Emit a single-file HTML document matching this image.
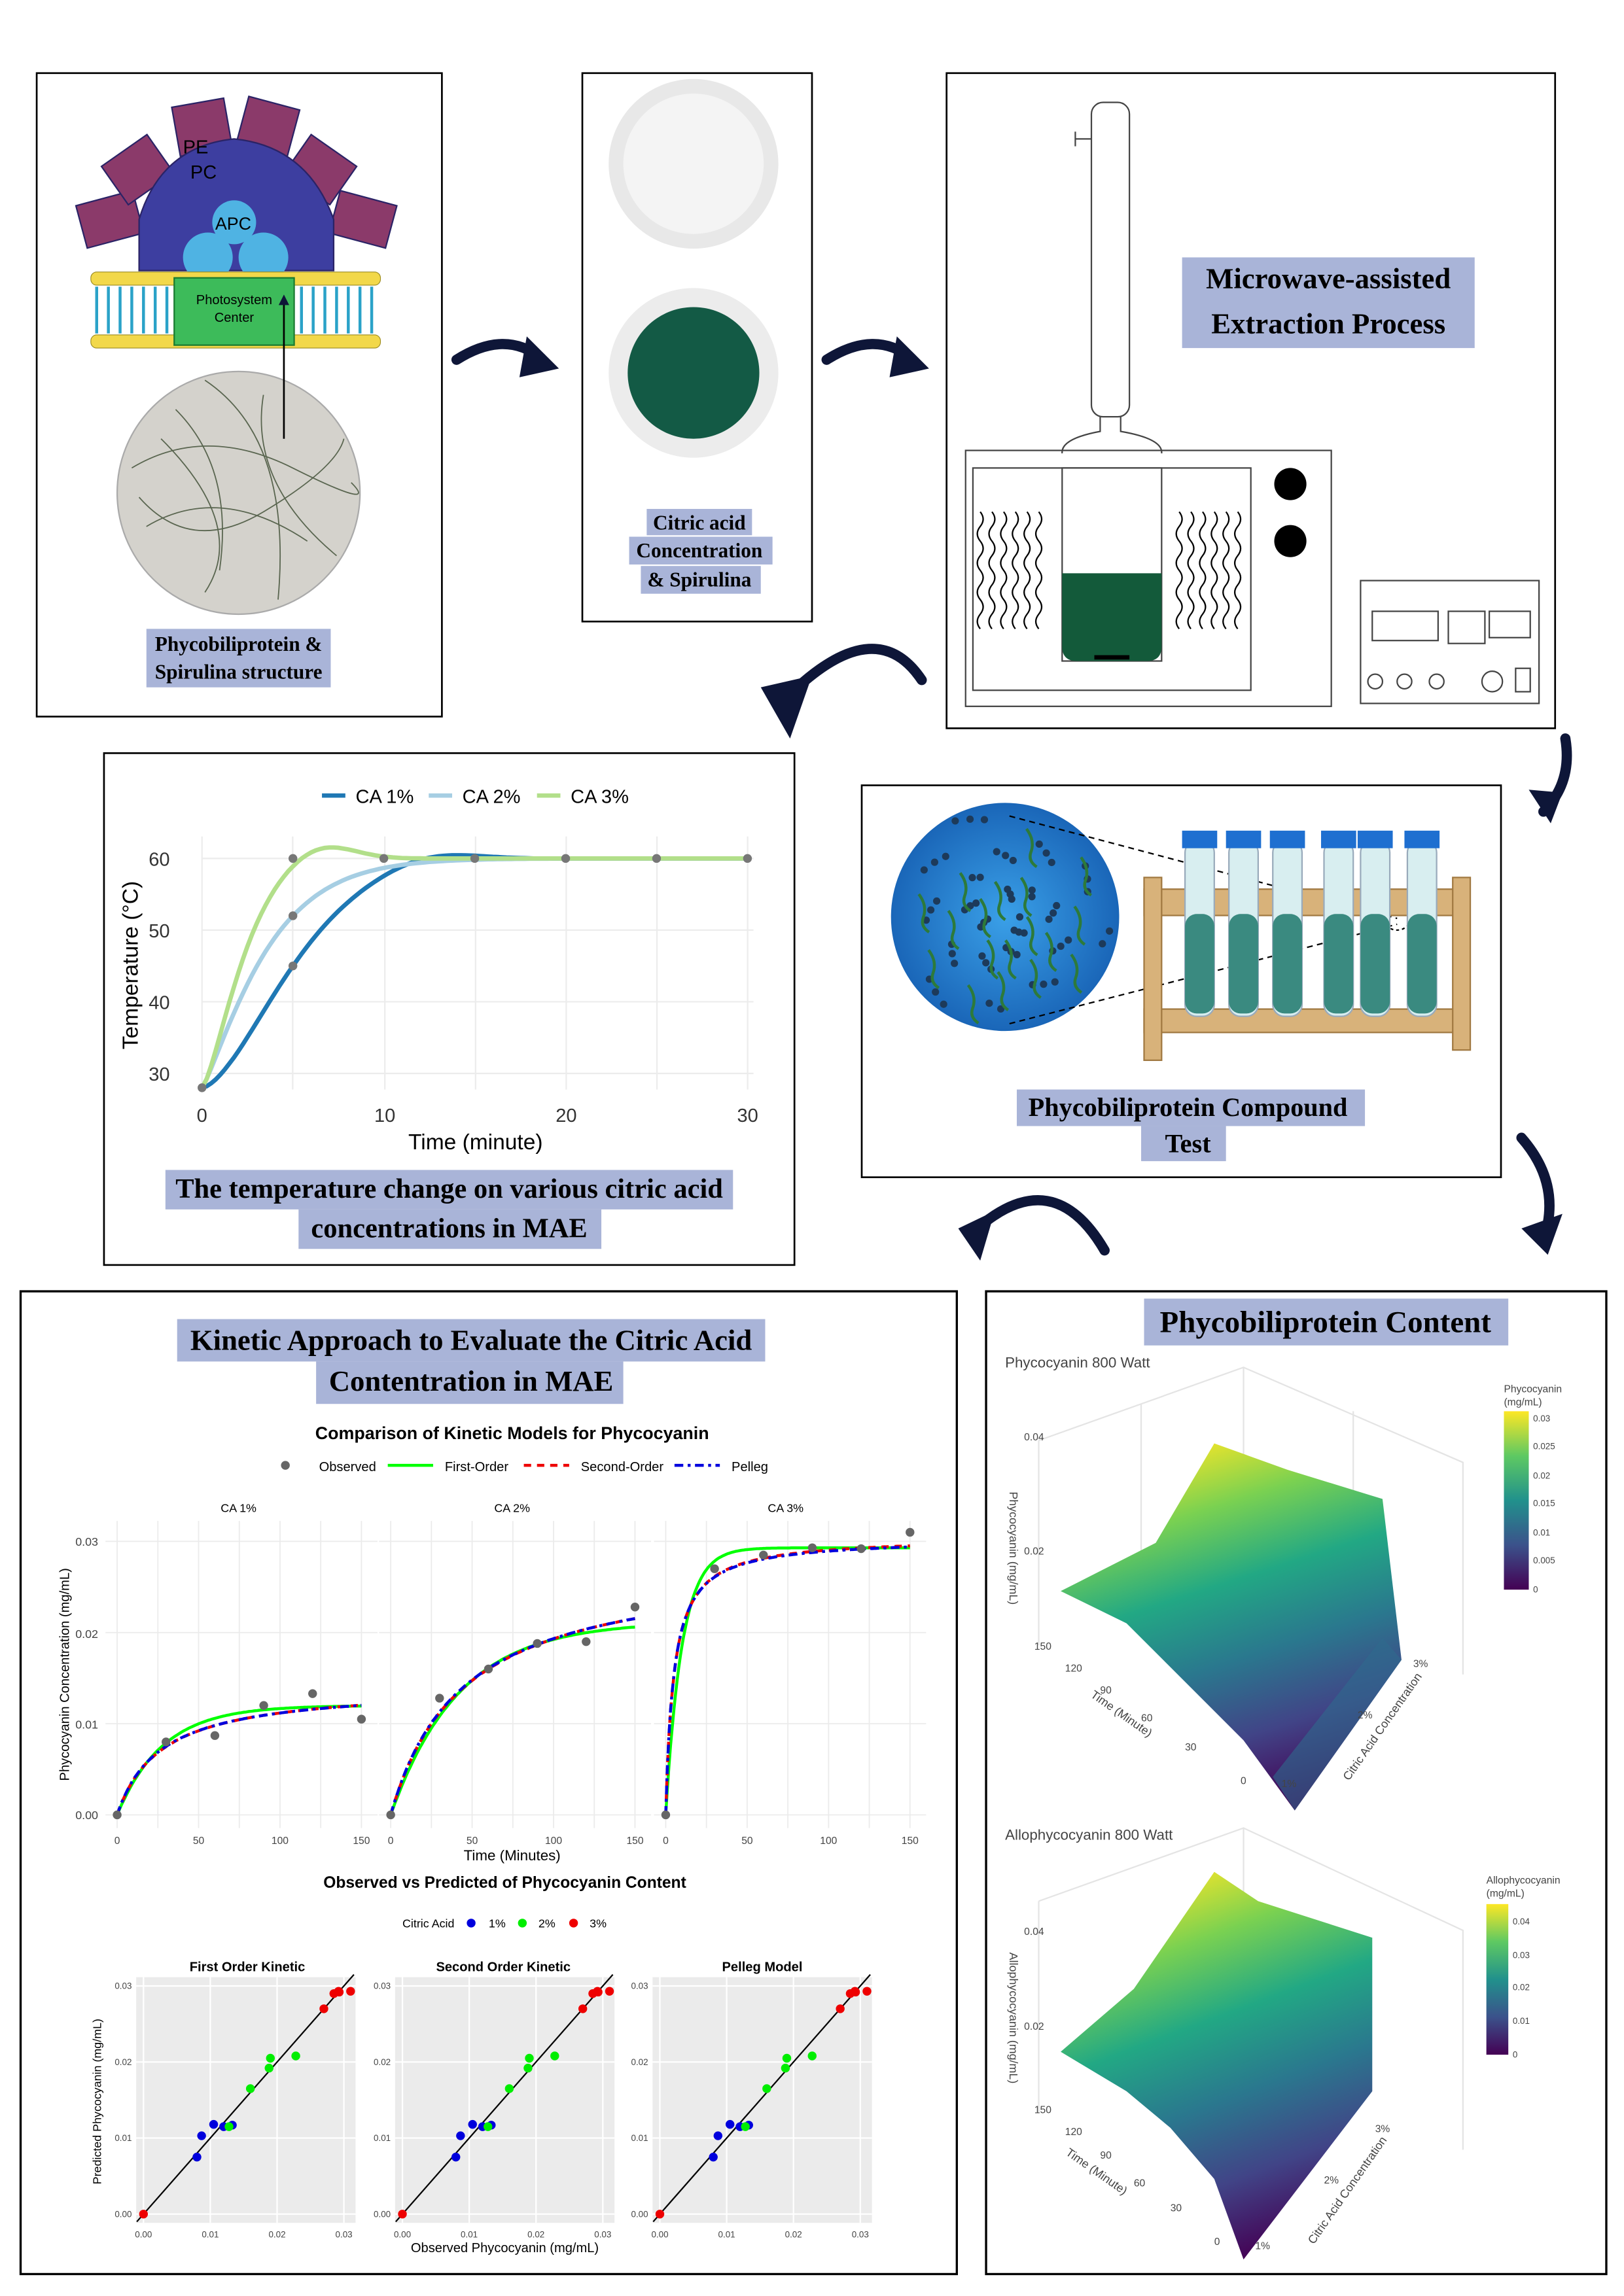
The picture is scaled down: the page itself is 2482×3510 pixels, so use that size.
<!DOCTYPE html>
<html><head><meta charset="utf-8"><style>
html,body{margin:0;padding:0;background:#fff}
svg{display:block}
.s{font-family:"Liberation Serif",serif;font-weight:bold}
.a{font-family:"Liberation Sans",sans-serif}
</style></head><body>
<svg id="g" width="2482" height="3510" viewBox="0 0 1110 1570" xmlns="http://www.w3.org/2000/svg">
<defs>
<linearGradient id="vir" x1="0" y1="0" x2="0" y2="1">
<stop offset="0" stop-color="#fde725"/><stop offset="0.25" stop-color="#5ec962"/><stop offset="0.5" stop-color="#21918c"/><stop offset="0.75" stop-color="#3b528b"/><stop offset="1" stop-color="#440154"/></linearGradient>
<linearGradient id="surf1" x1="0.3" y1="0" x2="0.6" y2="1">
<stop offset="0" stop-color="#fde725"/><stop offset="0.2" stop-color="#7ad151"/><stop offset="0.4" stop-color="#22a884"/><stop offset="0.6" stop-color="#2a788e"/><stop offset="0.8" stop-color="#414487"/><stop offset="1" stop-color="#440154"/></linearGradient>
<radialGradient id="blue" cx="0.5" cy="0.5" r="0.5"><stop offset="0" stop-color="#3aa0e8"/><stop offset="1" stop-color="#1a66b8"/></radialGradient>
<marker id="ah" markerWidth="6" markerHeight="6" refX="3" refY="3" orient="auto"><path d="M0,0 L6,3 L0,6 z" fill="#0e1638"/></marker>
</defs>
<rect width="1110" height="1570" fill="#fff"/>

<!-- Box 1 -->
<rect x="25" y="50" width="277" height="440" fill="#fff" stroke="#000" stroke-width="1.2"/>
<g fill="#4a3f8f" stroke="#2a2366" stroke-width="1">
<rect x="55" y="135" width="40" height="30" fill="#8b3a6a" transform="rotate(-15 75 150)"/>
<rect x="75" y="100" width="38" height="32" fill="#8b3a6a" transform="rotate(-35 94 116)"/>
<rect x="120" y="70" width="36" height="34" fill="#8b3a6a" transform="rotate(-10 138 87)"/>
<rect x="165" y="70" width="36" height="34" fill="#8b3a6a" transform="rotate(15 183 87)"/>
<rect x="200" y="100" width="38" height="32" fill="#8b3a6a" transform="rotate(35 219 116)"/>
<rect x="228" y="135" width="40" height="30" fill="#8b3a6a" transform="rotate(15 248 150)"/>
<path d="M95,150 Q110,100 160,95 Q210,100 228,150 L228,185 L95,185 z" fill="#3d3ea0"/>
</g>
<text x="125" y="105" class="a" font-size="13">PE</text><text x="130" y="122" class="a" font-size="13">PC</text>
<circle cx="142" cy="176" r="17" fill="#4fb3e3"/><circle cx="180" cy="176" r="17" fill="#4fb3e3"/><circle cx="160" cy="152" r="15" fill="#4fb3e3"/>
<text x="147" y="157" class="a" font-size="12">APC</text>
<g fill="#f2d84a" stroke="#9a8a20" stroke-width="0.5">
<rect x="62" y="186" width="198" height="9" rx="4"/><rect x="62" y="229" width="198" height="9" rx="4"/></g>
<g stroke="#2aa2c8" stroke-width="2" fill="none"><path d="M66,196 v32 M74,196 v32 M82,196 v32 M90,196 v32 M98,196 v32 M106,196 v32 M114,196 v32 M206,196 v32 M214,196 v32 M222,196 v32 M230,196 v32 M238,196 v32 M246,196 v32 M254,196 v32"/></g>
<rect x="119" y="190" width="82" height="46" fill="#3dbb5a" stroke="#1a7a30"/>
<text x="160" y="208" class="a" font-size="9" text-anchor="middle">Photosystem</text><text x="160" y="220" class="a" font-size="9" text-anchor="middle">Center</text>
<circle cx="163" cy="337" r="83" fill="#d4d2cc" stroke="#aaa"/>
<g stroke="#3a4a30" stroke-width="0.8" fill="none" opacity="0.8"><path d="M90,320 Q140,290 200,320 T240,330 M100,360 Q150,330 210,370 M120,280 Q160,320 150,390 M180,270 Q170,330 230,380 M95,340 Q130,380 180,350 T235,300 M140,260 Q200,300 190,410 M110,300 Q170,360 140,405"/></g>
<line x1="194" y1="300" x2="194" y2="205" stroke="#000" stroke-width="1.2" marker-end="url(#ah)"/>
<rect x="100" y="430" width="126" height="40" fill="#a9b4d8"/>
<text x="163" y="445" class="s" font-size="14" text-anchor="middle">Phycobiliprotein &amp;</text>
<text x="163" y="464" class="s" font-size="14" text-anchor="middle">Spirulina structure</text>

<!-- Box 2 -->
<rect x="398" y="50" width="157" height="375" fill="#fff" stroke="#000" stroke-width="1.2"/>
<circle cx="474" cy="112" r="58" fill="#e8e8e8"/><circle cx="474" cy="112" r="48" fill="#f4f4f4"/>
<circle cx="474" cy="255" r="58" fill="#ececec"/><circle cx="474" cy="255" r="45" fill="#135a45"/>
<rect x="442" y="348" width="72" height="18" fill="#a9b4d8"/><rect x="430" y="367" width="98" height="19" fill="#a9b4d8"/><rect x="438" y="387" width="82" height="19" fill="#a9b4d8"/>
<text x="478" y="362" class="s" font-size="14" text-anchor="middle">Citric acid</text>
<text x="478" y="381" class="s" font-size="14" text-anchor="middle">Concentration</text>
<text x="478" y="401" class="s" font-size="14" text-anchor="middle">&amp; Spirulina</text>

<!-- Box 3 -->
<rect x="647" y="50" width="416" height="448" fill="#fff" stroke="#000" stroke-width="1.2"/>
<g fill="none" stroke="#444" stroke-width="1">
<rect x="746" y="70" width="26" height="215" rx="8"/><path d="M735,95 h11 M735,90 v10"/>
<path d="M752,285 v10 Q725,300 726,310 M766,285 v10 Q795,300 794,310"/>
<rect x="660" y="308" width="250" height="175"/><rect x="665" y="320" width="190" height="152"/>
<rect x="930" y="397" width="122" height="84"/><rect x="938" y="418" width="45" height="20"/><rect x="990" y="418" width="25" height="22"/><rect x="1018" y="418" width="28" height="18"/>
<circle cx="940" cy="466" r="5"/><circle cx="960" cy="466" r="5"/><circle cx="982" cy="466" r="5"/><circle cx="1020" cy="466" r="7"/><rect x="1036" y="457" width="10" height="16"/>
</g>
<rect x="726" y="320" width="68" height="132" fill="#fff" stroke="#444"/>
<path d="M726,392 h68 v50 q0,10 -10,10 h-48 q-10,0 -10,-10 z" fill="#135a3a"/>
<rect x="748" y="448" width="24" height="3" fill="#000"/>
<g stroke="#000" stroke-width="1" fill="none">
<path d="M670,350 q4,5 0,10 q-4,5 0,10 q4,5 0,10 q-4,5 0,10 q4,5 0,10 q-4,5 0,10 q4,5 0,10 q-4,5 0,10 M678,350 q4,5 0,10 q-4,5 0,10 q4,5 0,10 q-4,5 0,10 q4,5 0,10 q-4,5 0,10 q4,5 0,10 q-4,5 0,10 M686,350 q4,5 0,10 q-4,5 0,10 q4,5 0,10 q-4,5 0,10 q4,5 0,10 q-4,5 0,10 q4,5 0,10 q-4,5 0,10 M694,350 q4,5 0,10 q-4,5 0,10 q4,5 0,10 q-4,5 0,10 q4,5 0,10 q-4,5 0,10 q4,5 0,10 q-4,5 0,10 M702,350 q4,5 0,10 q-4,5 0,10 q4,5 0,10 q-4,5 0,10 q4,5 0,10 q-4,5 0,10 q4,5 0,10 q-4,5 0,10 M710,350 q4,5 0,10 q-4,5 0,10 q4,5 0,10 q-4,5 0,10 q4,5 0,10 q-4,5 0,10 q4,5 0,10 q-4,5 0,10"/>
<path d="M806,350 q4,5 0,10 q-4,5 0,10 q4,5 0,10 q-4,5 0,10 q4,5 0,10 q-4,5 0,10 q4,5 0,10 q-4,5 0,10 M814,350 q4,5 0,10 q-4,5 0,10 q4,5 0,10 q-4,5 0,10 q4,5 0,10 q-4,5 0,10 q4,5 0,10 q-4,5 0,10 M822,350 q4,5 0,10 q-4,5 0,10 q4,5 0,10 q-4,5 0,10 q4,5 0,10 q-4,5 0,10 q4,5 0,10 q-4,5 0,10 M830,350 q4,5 0,10 q-4,5 0,10 q4,5 0,10 q-4,5 0,10 q4,5 0,10 q-4,5 0,10 q4,5 0,10 q-4,5 0,10 M838,350 q4,5 0,10 q-4,5 0,10 q4,5 0,10 q-4,5 0,10 q4,5 0,10 q-4,5 0,10 q4,5 0,10 q-4,5 0,10 M846,350 q4,5 0,10 q-4,5 0,10 q4,5 0,10 q-4,5 0,10 q4,5 0,10 q-4,5 0,10 q4,5 0,10 q-4,5 0,10"/></g>
<circle cx="882" cy="331" r="11" fill="#000"/><circle cx="882" cy="370" r="11" fill="#000"/>
<rect x="808" y="176" width="200" height="62" fill="#a9b4d8"/>
<text x="908" y="197" class="s" font-size="20" text-anchor="middle">Microwave-assisted</text>
<text x="908" y="228" class="s" font-size="20" text-anchor="middle">Extraction Process</text>

<!-- Arrows -->
<g fill="none" stroke="#0e1638" stroke-width="7" stroke-linecap="round">
<path d="M312,246 Q345,225 370,245"/><path d="M565,246 Q598,225 623,245"/>
<path d="M630,465 Q600,420 545,470"/><path d="M1070,505 Q1075,535 1055,555"/>
<path d="M1040,778 Q1068,810 1055,848"/><path d="M755,855 Q720,795 668,840"/>
</g>
<g fill="#0e1638">
<path d="M360,230 L382,252 L355,258 z"/><path d="M613,230 L635,252 L608,258 z"/>
<path d="M520,470 L555,462 L540,505 z"/><path d="M1045,540 L1060,563 L1068,542 z"/>
<path d="M1040,840 L1058,858 L1068,830 z"/><path d="M655,840 L680,828 L670,862 z"/>
</g>

<!-- Box 4 temp chart -->
<rect x="71" y="515" width="472" height="350" fill="#fff" stroke="#000" stroke-width="1.2"/>
<g stroke="#ececec" stroke-width="1"><path d="M138,587 H515 M138,636 H515 M138,685 H515 M138,734 H515 M138,572 V745 M200,572 V745 M263,572 V745 M325,572 V745 M387,572 V745 M449,572 V745 M511,572 V745"/></g>
<g class="a" font-size="13" fill="#333" text-anchor="end"><text x="116" y="592">60</text><text x="116" y="641">50</text><text x="116" y="690">40</text><text x="116" y="739">30</text></g>
<g class="a" font-size="13" fill="#333" text-anchor="middle"><text x="138" y="767">0</text><text x="263" y="767">10</text><text x="387" y="767">20</text><text x="511" y="767">30</text></g>
<text x="325" y="786" class="a" font-size="15" text-anchor="middle">Time (minute)</text>
<text x="94" y="660" class="a" font-size="15" text-anchor="middle" transform="rotate(-90 94 660)">Temperature (°C)</text>
<line x1="220" y1="544" x2="236" y2="544" stroke="#1f78b4" stroke-width="3"/><text x="243" y="549" class="a" font-size="13">CA 1%</text>
<line x1="293" y1="544" x2="309" y2="544" stroke="#a6cee3" stroke-width="3"/><text x="316" y="549" class="a" font-size="13">CA 2%</text>
<line x1="367" y1="544" x2="383" y2="544" stroke="#b2df8a" stroke-width="3"/><text x="390" y="549" class="a" font-size="13">CA 3%</text>
<g id="tc"></g>
<rect x="113" y="800" width="388" height="27" fill="#a9b4d8"/><rect x="204" y="827" width="207" height="27" fill="#a9b4d8"/>
<text x="307" y="819" class="s" font-size="19" text-anchor="middle">The temperature change on various citric acid</text>
<text x="307" y="846" class="s" font-size="19" text-anchor="middle">concentrations in MAE</text>

<!-- Box 5 -->
<rect x="589" y="537" width="437" height="268" fill="#fff" stroke="#000" stroke-width="1.2"/>
<circle cx="687" cy="627" r="78" fill="url(#blue)"/>
<g id="dots"></g>
<path d="M690,558 L955,628 M690,700 L955,632" stroke="#000" stroke-dasharray="4,3" fill="none"/>
<ellipse cx="955" cy="628" rx="9" ry="8" fill="none" stroke="#000" stroke-dasharray="2,2"/>
<g fill="#d8b27a" stroke="#a07840"><rect x="782" y="608" width="222" height="18"/><rect x="782" y="690" width="222" height="16"/><rect x="782" y="600" width="12" height="125"/><rect x="993" y="600" width="12" height="118"/></g>
<g id="tubes"></g>
<rect x="695" y="745" width="238" height="25" fill="#a9b4d8"/><rect x="780" y="770" width="58" height="24" fill="#a9b4d8"/>
<text x="812" y="763" class="s" font-size="18" text-anchor="middle">Phycobiliprotein Compound</text>
<text x="812" y="788" class="s" font-size="18" text-anchor="middle">Test</text>

<!-- Box 6 -->
<rect x="14" y="883" width="640" height="672" fill="#fff" stroke="#000" stroke-width="1.5"/>
<rect x="121" y="902" width="402" height="29" fill="#a9b4d8"/><rect x="216" y="931" width="210" height="29" fill="#a9b4d8"/>
<text x="322" y="923" class="s" font-size="20" text-anchor="middle">Kinetic Approach to Evaluate the Citric Acid</text>
<text x="322" y="951" class="s" font-size="20" text-anchor="middle">Contentration in MAE</text>
<text x="350" y="984" class="a" font-size="12" font-weight="bold" text-anchor="middle">Comparison of Kinetic Models for Phycocyanin</text>
<circle cx="195" cy="1002" r="3" fill="#666"/><text x="218" y="1006" class="a" font-size="9">Observed</text>
<line x1="265" y1="1002" x2="296" y2="1002" stroke="#0f0" stroke-width="2"/><text x="304" y="1006" class="a" font-size="9">First-Order</text>
<line x1="358" y1="1002" x2="389" y2="1002" stroke="#e00" stroke-width="2" stroke-dasharray="5,4"/><text x="397" y="1006" class="a" font-size="9">Second-Order</text>
<line x1="461" y1="1002" x2="492" y2="1002" stroke="#00d" stroke-width="2" stroke-dasharray="6,3,2,3"/><text x="500" y="1006" class="a" font-size="9">Pelleg</text>
<g class="a" font-size="8" text-anchor="middle"><text x="163" y="1034">CA 1%</text><text x="350" y="1034">CA 2%</text><text x="537" y="1034">CA 3%</text></g>
<g id="kin"></g>
<g class="a" font-size="8" fill="#444" text-anchor="end"><text x="67" y="1057">0.03</text><text x="67" y="1120">0.02</text><text x="67" y="1182">0.01</text><text x="67" y="1244">0.00</text></g>
<text x="47" y="1145" class="a" font-size="9" text-anchor="middle" transform="rotate(-90 47 1145)">Phycocyanin Concentration (mg/mL)</text>
<text x="350" y="1272" class="a" font-size="10" text-anchor="middle">Time (Minutes)</text>
<text x="345" y="1291" class="a" font-size="11" font-weight="bold" text-anchor="middle">Observed vs Predicted of Phycocyanin Content</text>
<text x="275" y="1318" class="a" font-size="8">Citric Acid</text>
<circle cx="322" cy="1315" r="3" fill="#00d"/><text x="334" y="1318" class="a" font-size="8">1%</text>
<circle cx="357" cy="1315" r="3" fill="#0e0"/><text x="368" y="1318" class="a" font-size="8">2%</text>
<circle cx="392" cy="1315" r="3" fill="#e00"/><text x="403" y="1318" class="a" font-size="8">3%</text>
<g class="a" font-size="9" font-weight="bold" text-anchor="middle"><text x="169" y="1348">First Order Kinetic</text><text x="344" y="1348">Second Order Kinetic</text><text x="521" y="1348">Pelleg Model</text></g>
<g id="sc"></g>
<text x="69" y="1437" class="a" font-size="8" text-anchor="middle" transform="rotate(-90 69 1437)">Predicted Phycocyanin (mg/mL)</text>
<text x="345" y="1540" class="a" font-size="9" text-anchor="middle">Observed Phycocyanin (mg/mL)</text>

<!-- Box 7 -->
<rect x="674" y="883" width="424" height="672" fill="#fff" stroke="#000" stroke-width="1.5"/>
<rect x="782" y="888" width="249" height="32" fill="#a9b4d8"/>
<text x="906" y="911" class="s" font-size="21" text-anchor="middle">Phycobiliprotein Content</text>
<text x="687" y="935" class="a" font-size="10" fill="#444">Phycocyanin 800 Watt</text>
<g stroke="#e4e4e4" fill="none"><path d="M710,985 L850,935 L1000,1000 L1000,1145 M850,935 L850,1070 M710,985 L710,1125 M780,960 V1100 M925,965 V1110"/></g>
<polygon points="725,1088 790,1055 830,987 880,1005 945,1025 958,1135 885,1238 850,1190 810,1150 770,1110" fill="url(#surf1)"/>
<polygon points="958,1135 885,1238 870,1215 945,1120" fill="#2f6b8e" opacity="0.6"/>
<g class="a" font-size="7" fill="#444"><text x="700" y="985">0.04</text><text x="700" y="1063">0.02</text><text x="707" y="1128">150</text><text x="728" y="1143">120</text><text x="752" y="1158">90</text><text x="780" y="1177">60</text><text x="810" y="1197">30</text><text x="848" y="1220">0</text><text x="876" y="1222">1%</text><text x="928" y="1175">2%</text><text x="966" y="1140">3%</text></g>
<text x="745" y="1160" class="a" font-size="8" fill="#444" transform="rotate(35 745 1160)">Time (Minute)</text>
<text x="922" y="1218" class="a" font-size="8" fill="#444" transform="rotate(-55 922 1218)">Citric Acid Concentration</text>
<text x="690" y="1020" class="a" font-size="8" fill="#444" transform="rotate(90 690 1020)">Phycocyanin (mg/mL)</text>
<text x="1028" y="952" class="a" font-size="7" fill="#444">Phycocyanin</text><text x="1028" y="961" class="a" font-size="7" fill="#444">(mg/mL)</text>
<rect x="1028" y="965" width="17" height="122" fill="url(#vir)"/>
<g class="a" font-size="6" fill="#444"><text x="1048" y="972">0.03</text><text x="1048" y="991">0.025</text><text x="1048" y="1011">0.02</text><text x="1048" y="1030">0.015</text><text x="1048" y="1050">0.01</text><text x="1048" y="1069">0.005</text><text x="1048" y="1089">0</text></g>

<text x="687" y="1258" class="a" font-size="10" fill="#444">Allophycocyanin 800 Watt</text>
<g stroke="#e4e4e4" fill="none"><path d="M710,1300 L850,1250 L1000,1320 L1000,1470 M850,1250 V1390 M710,1300 V1445"/></g>
<polygon points="725,1403 775,1360 830,1280 860,1300 938,1325 938,1430 850,1545 830,1490 800,1455 770,1430" fill="url(#surf1)"/>
<g class="a" font-size="7" fill="#444"><text x="700" y="1323">0.04</text><text x="700" y="1388">0.02</text><text x="707" y="1445">150</text><text x="728" y="1460">120</text><text x="752" y="1476">90</text><text x="775" y="1495">60</text><text x="800" y="1512">30</text><text x="830" y="1535">0</text><text x="858" y="1538">1%</text><text x="905" y="1493">2%</text><text x="940" y="1458">3%</text></g>
<text x="728" y="1473" class="a" font-size="8" fill="#444" transform="rotate(35 728 1473)">Time (Minute)</text>
<text x="898" y="1535" class="a" font-size="8" fill="#444" transform="rotate(-55 898 1535)">Citric Acid Concentration</text>
<text x="690" y="1335" class="a" font-size="8" fill="#444" transform="rotate(90 690 1335)">Allophycocyanin (mg/mL)</text>
<text x="1016" y="1288" class="a" font-size="7" fill="#444">Allophycocyanin</text><text x="1016" y="1297" class="a" font-size="7" fill="#444">(mg/mL)</text>
<rect x="1016" y="1302" width="15" height="103" fill="url(#vir)"/>
<g class="a" font-size="6" fill="#444"><text x="1034" y="1316">0.04</text><text x="1034" y="1339">0.03</text><text x="1034" y="1361">0.02</text><text x="1034" y="1384">0.01</text><text x="1034" y="1407">0</text></g>
</svg>
<script>
var NS="http://www.w3.org/2000/svg";
function el(p,t,a){var e=document.createElementNS(NS,t);for(var k in a)e.setAttribute(k,a[k]);p.appendChild(e);return e;}
var tc=document.getElementById('tc');
function tx(t){return 138+t*12.43}function ty(v){return 734-(v-30)*4.9}
function tcurve(f,col){var d="";for(var t=0;t<=30;t+=0.25){d+=(t?"L":"M")+tx(t).toFixed(1)+","+ty(f(t)).toFixed(1);}el(tc,'path',{d:d,fill:'none',stroke:col,'stroke-width':3});}
tcurve(function(t){return 28+32*(1-Math.exp(-Math.pow(t/5.95,1.6)))+1.3*Math.exp(-Math.pow((t-12.5)/3.5,2))},'#1f78b4');
tcurve(function(t){return 28+32*(1-Math.exp(-Math.pow(t/3.81,1.2)))},'#a6cee3');
tcurve(function(t){return 28+32*(1-Math.exp(-Math.pow(t/2.6,1.4)))+2.2*Math.exp(-Math.pow((t-6.5)/2.5,2))},'#b2df8a');
[[0,28],[5,45],[5,52],[5,60],[10,60],[15,60],[20,60],[25,60],[30,60]].forEach(function(p){el(tc,'circle',{cx:tx(p[0]),cy:ty(p[1]),r:3,fill:'#777'})});
var dots=document.getElementById('dots');
for(var i=0;i<60;i++){var a=i*2.4,r=10+((i*37)%65);el(dots,'circle',{cx:687+r*Math.cos(a),cy:627+r*Math.sin(a),r:2.5,fill:'#1d3a5a'});}
for(var i=0;i<18;i++){var a=i*1.7,r=15+((i*23)%55),x=687+r*Math.cos(a),y=627+r*Math.sin(a);el(dots,'path',{d:'M'+x+','+y+' q6,8 3,16 q-2,6 4,10',fill:'none',stroke:'#2d7a3a','stroke-width':2});}
var tb=document.getElementById('tubes');
[820,850,880,915,940,972].forEach(function(x){el(tb,'rect',{x:x-10,y:575,width:20,height:120,rx:8,fill:'#d8eef0',stroke:'#9ab'});el(tb,'rect',{x:x-10,y:625,width:20,height:68,rx:8,fill:'#3a8a80'});el(tb,'rect',{x:x-12,y:568,width:24,height:12,fill:'#1e6fd0'});});
var kin=document.getElementById('kin');
// [x0, A1, tau, data, A2, K2]
var P=[[80,0.012,28,[0,0.008,0.0087,0.012,0.0133,0.0105],0.0142,27],[267,0.0212,42,[0,0.0128,0.016,0.0188,0.019,0.0228],0.028,45],[455,0.0293,10,[0,0.027,0.0285,0.0293,0.0292,0.031],0.0305,5]];
function ky(v){return 1241-v/0.03*187}
P.forEach(function(p){var x0=p[0],sx=167/150;
 var g="";[0,0.01,0.02,0.03].forEach(function(v){g+="M"+(x0-8)+","+ky(v)+"H"+(x0+178);});[0,25,50,75,100,125,150].forEach(function(t){g+="M"+(x0+t*sx)+",1040V1250";});
 el(kin,'path',{d:g,stroke:'#ebebeb','stroke-width':0.8,fill:'none'});
 ['0','50','100','150'].forEach(function(s,i){var e=el(kin,'text',{x:x0+i*50*sx,y:1261,'font-size':7,'text-anchor':'middle','font-family':'Liberation Sans',fill:'#444'});e.textContent=s;});
 function c(f,col,dash){var d="";for(var t=0;t<=150;t+=1){d+=(t?"L":"M")+(x0+t*sx).toFixed(1)+","+ky(f(t)).toFixed(1);}var a={d:d,fill:'none',stroke:col,'stroke-width':2};if(dash)a['stroke-dasharray']=dash;el(kin,'path',a);}
 c(function(t){return p[1]*(1-Math.exp(-t/p[2]))},'#0f0');
 c(function(t){return p[4]*t/(t+p[5])},'#e00','5,4');
 c(function(t){return p[4]*0.995*t/(t+p[5]*0.98)},'#00d','6,3,2,3');
 p[3].forEach(function(v,i){el(kin,'circle',{cx:x0+i*30*sx,cy:ky(v),r:3,fill:'#666'});});
});
var sc=document.getElementById('sc');
var obs=[0,0.008,0.0087,0.012,0.0133,0.0105,0.0128,0.016,0.0188,0.019,0.0228,0.027,0.0285,0.0293,0.0292,0.031];
var pre=[0,0.0075,0.0103,0.0115,0.0117,0.0118,0.0115,0.0165,0.0192,0.0205,0.0208,0.027,0.029,0.0292,0.0293,0.0293];
var cols=['#e00','#00d','#00d','#00d','#00d','#00d','#0e0','#0e0','#0e0','#0e0','#0e0','#e00','#e00','#e00','#e00','#e00'];
[93,270,446].forEach(function(x0){var w=150;
 el(sc,'rect',{x:x0,y:1352,width:w,height:168,fill:'#ebebeb'});
 function X(v){return x0+5+v/0.03*137}function Y(v){return 1514-v/0.03*156}
 var g="";[0,0.01,0.02,0.03].forEach(function(v){g+="M"+x0+","+Y(v)+"H"+(x0+w)+"M"+X(v)+",1352V1520";});
 el(sc,'path',{d:g,stroke:'#fff','stroke-width':1,fill:'none'});
 el(sc,'line',{x1:X(-0.001),y1:Y(-0.001),x2:X(0.0315),y2:Y(0.0315),stroke:'#000','stroke-width':1});
 obs.forEach(function(o,i){el(sc,'circle',{cx:X(o),cy:Y(pre[i]),r:3,fill:cols[i]});});
 ['0.00','0.01','0.02','0.03'].forEach(function(s,i){var e=el(sc,'text',{x:X(i*0.01),y:1530,'font-size':6,'text-anchor':'middle','font-family':'Liberation Sans',fill:'#444'});e.textContent=s;var f=el(sc,'text',{x:x0-3,y:Y(i*0.01)+2,'font-size':6,'text-anchor':'end','font-family':'Liberation Sans',fill:'#444'});f.textContent=s;});
});
</script>
</body></html>
